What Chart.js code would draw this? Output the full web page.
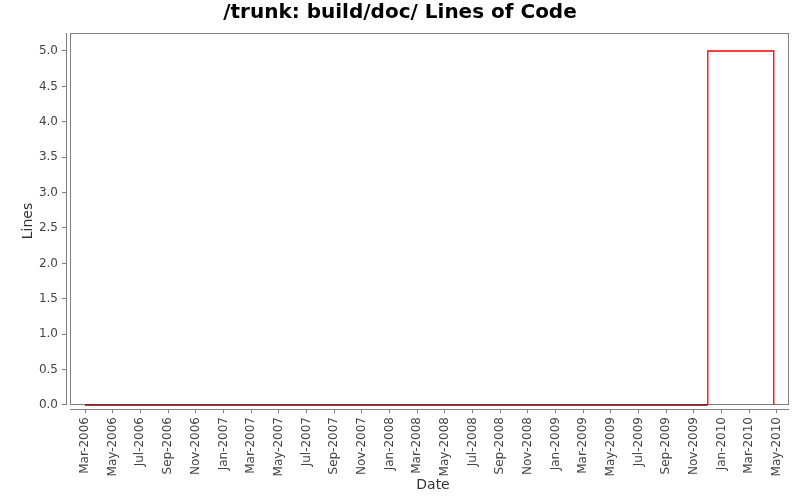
<!DOCTYPE html>
<html>
<head>
<meta charset="utf-8">
<script src="https://cdn.jsdelivr.net/npm/chart.js@4.4.1/dist/chart.umd.min.js"></script>
<style>
  html, body { margin: 0; padding: 0; background: #fff; }
  #wrap { width: 800px; height: 500px; }
</style>
</head>
<body>
<div id="wrap"><canvas id="locChart" width="800" height="500"></canvas></div>
<script>
// chart data
const chartTitle = "/trunk: build/doc/ Lines of Code";
const pointDates = ["2006-03-01", "2009-12-01", "2009-12-01", "2010-04-24"];
const pointLines = [0, 0, 5, 0];
const monthNames = ["Jan", "Feb", "Mar", "Apr", "May", "Jun", "Jul", "Aug", "Sep", "Oct", "Nov", "Dec"];
const baseYear = 2006;

// months since Jan of baseYear, fractional
function toMonths(str) {
    const [y, m, d] = str.split("-").map(Number);
    const days = new Date(y, m, 0).getDate();
    return (y - baseYear) * 12 + (m - 1) + (d - 1) / days;
}

function monthLabel(v) {
    const idx = Math.round(v);
    const y = baseYear + Math.floor(idx / 12);
    return monthNames[((idx % 12) + 12) % 12] + "-" + y;
}

const points = pointDates.map((d, i) => ({ x: toMonths(d), y: pointLines[i] }));

const RIGHT_GAP = 11;

// plot frame + axis lines like the original (axes detached from the box)
const framePlugin = {
    id: "frame",
    beforeDatasetsDraw(chart) {
        const { ctx, chartArea: a } = chart;
        const r = a.right - RIGHT_GAP;
        ctx.save();
        ctx.strokeStyle = "#808080";
        ctx.lineWidth = 1;
        ctx.strokeRect(a.left + 4.5, a.top + 0.5, r - a.left - 5, a.bottom - a.top - 5);
        ctx.beginPath();
        ctx.moveTo(a.left + 0.5, a.top);
        ctx.lineTo(a.left + 0.5, a.bottom - 4);
        ctx.moveTo(a.left + 4, a.bottom + 0.5);
        ctx.lineTo(r, a.bottom + 0.5);
        ctx.stroke();
        ctx.restore();
    }
};

const ctx = document.getElementById("locChart").getContext("2d");
new Chart(ctx, {
    type: "line",
    data: {
        datasets: [{
            data: points,
            stepped: true,
            borderWidth: 1.3,
            borderColor: "#ff0000",
            pointRadius: 0,
            fill: false,
            clip: false,
            segment: {
                borderColor: c => (c.p0.parsed.y === 0 && c.p1.parsed.y === 0) ? "#800000" : "#ff0000"
            }
        }]
    },
    options: {
        responsive: false,
        animation: false,
        layout: { padding: 0 },
        plugins: {
            legend: { display: false },
            tooltip: { enabled: false },
            title: {
                display: true,
                text: chartTitle,
                color: "#000",
                font: { family: "DejaVu Sans", size: 20, weight: "bold" },
                padding: { top: 1, bottom: 8 }
            }
        },
        scales: {
            x: {
                type: "linear",
                min: 0.627,
                max: 53.662,
                afterFit(scale) { scale.height = 91; },
                border: { display: false },
                grid: { drawOnChartArea: false, drawTicks: true, tickLength: 4, color: "#808080" },
                ticks: {
                    stepSize: 2,
                    includeBounds: false,
                    autoSkip: false,
                    minRotation: 90,
                    maxRotation: 90,
                    padding: 4,
                    color: "#444",
                    font: { family: "DejaVu Sans", size: 12 },
                    callback: v => (v > 52.5 ? "" : monthLabel(v))
                },
                title: {
                    display: true,
                    text: "Date",
                    color: "#333",
                    font: { family: "DejaVu Sans", size: 14 },
                    padding: { top: 0, bottom: 6 }
                }
            },
            y: {
                min: -0.0565,
                max: 5.254,
                afterFit(scale) { scale.width = 66; },
                border: { display: false },
                grid: { drawOnChartArea: false, drawTicks: true, tickLength: 4, color: "#808080" },
                ticks: {
                    stepSize: 0.5,
                    includeBounds: false,
                    padding: 4,
                    color: "#444",
                    font: { family: "DejaVu Sans", size: 12 },
                    callback: v => v.toFixed(1)
                },
                title: {
                    display: true,
                    text: "Lines",
                    color: "#333",
                    font: { family: "DejaVu Sans", size: 14 },
                    padding: { top: 20, bottom: 0 }
                }
            }
        }
    },
    plugins: [framePlugin]
});
</script>
</body>
</html>
